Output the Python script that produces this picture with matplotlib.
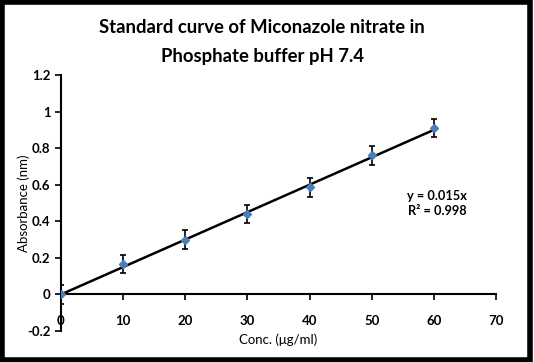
import matplotlib
matplotlib.use("Agg")
import matplotlib.pyplot as plt
from matplotlib.patches import Rectangle
import numpy as np

conc = [0, 10, 20, 30, 40, 50, 60]
absorbance = [0.0, 0.165, 0.30, 0.44, 0.585, 0.76, 0.91]
err = [0.05, 0.05, 0.05, 0.05, 0.05, 0.05, 0.05]
slope = 0.015
x_ticks = [0, 10, 20, 30, 40, 50, 60, 70]
y_ticks = [-0.2, 0, 0.2, 0.4, 0.6, 0.8, 1, 1.2]
y_labels = ["-0.2", "0", "0.2", "0.4", "0.6", "0.8", "1", "1.2"]
title_lines = ["Standard curve of Miconazole nitrate in", "Phosphate buffer pH 7.4"]

plt.rcParams['font.family'] = ['Lato', 'DejaVu Sans']

fig = plt.figure(figsize=(5.34, 3.62), dpi=100)
ax = fig.add_axes([0.1142, 0.0856, 0.8146, 0.7072])

# trendline through origin
fit_x = np.array([0, 60])
ax.plot(fit_x, slope * fit_x, color="black", lw=1.8, zorder=2)
ax.errorbar(conc, absorbance, yerr=err, fmt="D", color="#4a7ebb", ms=4.5,
            ecolor="black", elinewidth=1.2, capsize=2.5, capthick=1.2, zorder=3)

ax.set_xlim(0, 70)
ax.set_ylim(-0.2, 1.2)
ax.set_xticks(x_ticks)
ax.set_yticks(y_ticks)
ax.set_yticklabels(y_labels)
ax.spines['top'].set_visible(False)
ax.spines['right'].set_visible(False)
ax.spines['bottom'].set_position(('data', 0))
ax.spines['left'].set_linewidth(1.5)
ax.spines['bottom'].set_linewidth(1.5)
ax.tick_params(axis='both', direction='out', length=4, width=1.2, labelsize=9.5)
ax.tick_params(axis='x', pad=11)
for lbl in ax.get_xticklabels() + ax.get_yticklabels():
    lbl.set_fontweight('bold')

ax.set_xlabel("Conc. (μg/ml)", fontsize=9.5)
ax.xaxis.set_label_coords(0.5, -0.01)
ax.set_ylabel("Absorbance (nm)", fontsize=9.5, labelpad=-2)

fig.text(0.491, 0.925, title_lines[0], ha="center", va="center",
         fontsize=13.3, fontweight="bold")
fig.text(0.491, 0.843, title_lines[1], ha="center", va="center",
         fontsize=13.3, fontweight="bold")
ax.text(0.864, 0.498, "y = 0.015x\nR² = 0.998", transform=ax.transAxes,
        ha="center", va="center", fontsize=9.2, fontweight="bold", linespacing=1.25)

# outer frame
fig.patches.append(Rectangle((0.003, 0.006), 0.99, 0.988, transform=fig.transFigure,
                             fill=False, edgecolor="black", lw=4))

fig.savefig("out.png", dpi=100)
